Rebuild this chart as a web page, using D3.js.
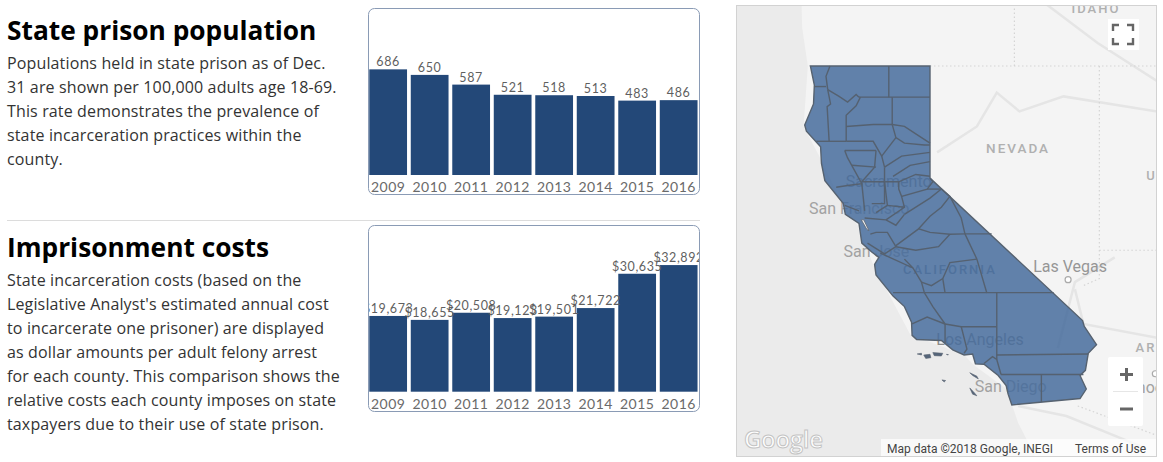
<!DOCTYPE html>
<html><head><meta charset="utf-8">
<script src="https://cdn.jsdelivr.net/npm/d3@7"></script>
<style>html,body{margin:0;padding:0;background:#fff}svg{display:block}</style>
</head><body><svg id="c" width="1163" height="462"></svg>
<script>
const years = [2009,2010,2011,2012,2013,2014,2015,2016];
const prisonRates = [686,650,587,521,518,513,483,486];
const prisonCosts = [19673,18655,20508,19123,19501,21722,30635,32892];

const titleOne = "State prison population";
const bodyOne = ["Populations held in state prison as of Dec.","31 are shown per 100,000 adults age 18-69.","This rate demonstrates the prevalence of","state incarceration practices within the","county."];
const titleTwo = "Imprisonment costs";
const bodyTwo = ["State incarceration costs (based on the","Legislative Analyst's estimated annual cost","to incarcerate one prisoner) are displayed","as dollar amounts per adult felony arrest","for each county. This comparison shows the","relative costs each county imposes on state","taxpayers due to their use of state prison."];

// Map geography, lon/lat
const caOutline = [[-124.21,42],[-120,42],[-120,39],[-114.63,35],[-114.57,34.83],[-114.14,34.3],[-114.43,34.05],[-114.53,33.55],[-114.72,33.4],[-114.5,33],[-114.72,32.72],[-117.12,32.53],[-117.25,32.85],[-117.32,33.1],[-117.6,33.4],[-118.1,33.73],[-118.4,33.74],[-118.5,34.03],[-118.8,34],[-119.2,34.15],[-119.6,34.42],[-120.47,34.45],[-120.63,34.57],[-120.65,34.95],[-120.9,35.4],[-121.3,35.7],[-121.9,36.3],[-121.95,36.6],[-121.8,36.8],[-122.05,36.95],[-122.4,37.2],[-122.5,37.75],[-122.98,38],[-123.05,38.3],[-123.7,38.93],[-123.82,39.4],[-123.85,39.85],[-124.35,40.27],[-124.41,40.44],[-124.1,41],[-124.07,41.5],[-124.21,42]];
const countyLines = [
 [[-123.52,42],[-123.66,41.73],[-123.6,41.38]],[[-124.06,41.46],[-123.66,41.46]],
 [[-121.45,42],[-121.45,41.18]],[[-122.5,41.18],[-120,41.18]],[[-121.33,41.18],[-121.33,40.45]],
 [[-123.6,41.38],[-123.5,41],[-123.62,40.93],[-123.55,40]],[[-124,40],[-122.93,40]],
 [[-122.95,40.4],[-122,40.45],[-121.33,40.45]],[[-123.6,41.38],[-123.2,41.2],[-122.9,41.05],[-122.6,41.25],[-122.5,41.18]],
 [[-122.45,41.18],[-122.6,40.95],[-122.95,40.7],[-122.95,40]],
 [[-121.33,40.45],[-121.2,40.1],[-120.9,39.95],[-120.2,39.9],[-120,39.9]],[[-121.33,40.45],[-120.9,40.4],[-120.5,40.2],[-120,39.95]],
 [[-122.93,40],[-122,40],[-121.7,39.6],[-121.6,39.3]],[[-121.2,40.1],[-121.7,39.6]],[[-123,39.75],[-121.9,39.75]],[[-122.75,39.35],[-121.9,39.3]],
 [[-122.9,39.55],[-122.4,38.85],[-122.9,38.8],[-123.3,38.75]],[[-122.4,38.85],[-122.3,38.1]],[[-122.4,38.9],[-121.6,38.9],[-121.6,38.3],[-122.05,38.3]],
 [[-121.9,39.75],[-121.95,39.3],[-122.4,38.9]],[[-123,39.75],[-122.9,39.55]],[[-121.6,39.3],[-121.6,38.9],[-121.5,38.25],[-121.9,38.05]],
 [[-121.6,39.3],[-121,39.6],[-120,39.7]],[[-121.3,39.05],[-120.7,39.35],[-120,39.45]],[[-121.6,38.9],[-121.1,38.9],[-120.5,39.1],[-120,39.05]],
 [[-121.1,38.9],[-121.1,38.7],[-121,38.5],[-120.1,38.7],[-119.9,38.9],[-120,39]],[[-121.55,37.85],[-120.9,38.2],[-121,38.5]],[[-121.5,38.25],[-120.9,38.2]],
 [[-120.9,38],[-120,38.45],[-119.6,38.7]],[[-120.1,38.7],[-119.6,38.7]],[[-119.6,38.7],[-119.3,38.5],[-119.6,38.2],[-120,37.95],[-120.4,37.6]],
 [[-123,38.25],[-122.5,38.1]],[[-122.3,37.9],[-121.55,37.85],[-121.2,37.7],[-120.9,38]],[[-122.1,37.45],[-121.9,37.5],[-121.5,37.5],[-121.2,37.1]],[[-122.2,37.2],[-121.6,36.9],[-121.2,37.1]],
 [[-121.2,37.13],[-120.4,37.6],[-120,37.5],[-119.3,37.45],[-118.77,37.46],[-117.83,37.46]],[[-121.2,37.1],[-120.5,37],[-119.7,37.1],[-119.3,37.45]],
 [[-121.75,36.92],[-120.6,36.5],[-120.3,36.1],[-120.2,35.8]],[[-120.9,36.75],[-120.6,36.5]],[[-120.3,36.1],[-119.95,36],[-119.55,36.2],[-119.3,36.65],[-118.35,36.75]],
 [[-119.55,36.2],[-119.47,35.79]],[[-118.77,37.46],[-118.35,36.75],[-118,35.79]],[[-119.3,38.5],[-118.9,37.9],[-118.77,37.46]],
 [[-121.3,35.8],[-115.65,35.8]],[[-120.2,35.8],[-119.9,35.4],[-119.47,34.9]],[[-120.63,34.9],[-120.1,35.1],[-119.47,34.9]],[[-119.47,34.9],[-119.47,34.35]],
 [[-119.47,34.9],[-118.9,34.82],[-117.65,34.82]],[[-118.9,34.82],[-118.7,34.17],[-118.8,34.05]],[[-117.65,35.8],[-117.65,33.87]],
 [[-117.65,34],[-114.43,34.03]],[[-117.5,33.43],[-114.6,33.43]],[[-116.08,33.43],[-116.08,32.62]],[[-118.1,33.75],[-117.8,33.95],[-117.65,33.87],[-117.5,33.43]]
];
const islands = [[[-120.45,34.03],[-120.3,34.05],[-120.3,34.0]],[[-120.22,34],[-120,34.02],[-119.97,33.92],[-120.15,33.9]],[[-119.9,34.07],[-119.55,34.05],[-119.6,33.97],[-119.85,33.98]],[[-119.42,34.02],[-119.35,34.01],[-119.4,34]],[[-118.6,33.48],[-118.35,33.38],[-118.3,33.3],[-118.5,33.4]],[[-119.58,33.27],[-119.45,33.25],[-119.5,33.21]],[[-118.6,33.03],[-118.48,32.93],[-118.35,32.8],[-118.5,32.85]]];
const bay = [[-122.42,37.85],[-122.33,37.85],[-122.15,37.55],[-122.22,37.58]];
const waterways = [[[-119.75,39.7],[-118.35,40.4],[-117.65,41.3],[-116.85,40.8],[-115.3,41.2],[-112,40.8]],[[-116.1,43.7],[-114.1,42.6],[-112,41.6]],[[-114.9,35.9],[-114.6,34.9],[-112,34.5]],[[-116.9,32.5],[-115.2,32.2],[-112.6,31.3]],[[-113.5,36.8],[-114.9,36.1],[-115.5,34.2]]];
const dottedLines = [[[-120,42],[-111,42]],[[-117.03,42],[-117.03,45]],[[-114.04,42],[-114.04,36.2],[-114.6,36]],[[-114.04,37],[-111,37]],[[-114.8,32.5],[-111,31.3]]];
const landEdge = [[-124.6,46],[-124.5,43],[-124.3,42],[-124.45,40.4],[-123.9,39.6],[-123.1,38.3],[-122.55,37.7],[-122,36.6],[-120.7,34.6],[-118.8,34],[-118.45,33.7],[-117.3,33],[-116.9,32],[-116.3,31],[-116,30],[-105,30],[-105,46]];
const cities = [
 {name:"Sacramento",lon:-121.49,lat:38.58,size:16,dx:1,dy:-6,color:"#8c8c8c"},
 {name:"San Francisco",lon:-122.42,lat:37.77,size:16,dx:-2,dy:-9,color:"#a2a2a2"},
 {name:"San Jose",lon:-121.89,lat:37.34,size:16,dx:0,dy:19,color:"#a2a2a2"},
 {name:"Las Vegas",lon:-115.14,lat:36.17,size:16,dx:2,dy:-8,color:"#969696"},
 {name:"Los Angeles",lon:-118.24,lat:34.05,size:16,dx:0,dy:-8,color:"#8c8c8c"},
 {name:"San Diego",lon:-117.16,lat:32.72,size:16,dx:0,dy:-7,color:"#a2a2a2"},
 {name:"Phoenix",lon:-112.07,lat:33.45,size:16,dx:0,dy:19,color:"#a2a2a2"}
];
const regions = [
 {name:"NEVADA",lon:-116.9,lat:39.68,size:13.5,color:"#b0b0b0"},
 {name:"CALIFORNIA",lon:-119.3,lat:36.33,size:13,color:"#7f8b9b"},
 {name:"IDAHO",lon:-114.16,lat:43.38,size:13,color:"#b0b0b0"},
 {name:"U",lon:-112.2,lat:38.94,size:13,color:"#b0b0b0"},
 {name:"ARI",lon:-112.3,lat:34.1,size:13,color:"#b0b0b0"}
];

const svg = d3.select("#c");
const defs = svg.append("defs");

function textBlock(title, lines, titleY, firstY){
  svg.append("text").attr("x",7).attr("y",titleY).attr("font-family","Open Sans").attr("font-weight",700).attr("font-size",26.3).attr("fill","#000").text(title);
  svg.selectAll(null).data(lines).join("text").attr("x",7).attr("y",(d,i)=>firstY+i*24)
    .attr("font-family","Open Sans").attr("font-size",16).attr("letter-spacing",0.14).attr("fill","#333").text(d=>d);
}
textBlock(titleOne, bodyOne, 40, 69);
textBlock(titleTwo, bodyTwo, 257, 286);
svg.append("line").attr("x1",7).attr("x2",700).attr("y1",220.5).attr("y2",220.5).attr("stroke","#dcdcdc");

function barPanel(id, values, top, bottom, base, domainMax, rangeHeight, fmt){
  const x = d3.scaleBand().domain(years).range([367.4,699.4]).paddingInner(0.09).paddingOuter(0.045);
  const y = d3.scaleLinear().domain([0,domainMax]).range([base,base-rangeHeight]);
  defs.append("clipPath").attr("id",id).append("rect").attr("x",368.5).attr("y",top).attr("width",331).attr("height",bottom-top).attr("rx",6);
  const g = svg.append("g").attr("clip-path",`url(#${id})`);
  g.selectAll("rect").data(values).join("rect")
    .attr("x",(d,i)=>x(years[i])).attr("width",x.bandwidth())
    .attr("y",d=>y(d)).attr("height",d=>base-y(d)).attr("fill","#234878");
  g.selectAll("text.v").data(values).join("text").attr("class","v")
    .attr("x",(d,i)=>x(years[i])+x.bandwidth()/2).attr("y",d=>y(d)-3).attr("text-anchor","middle")
    .attr("font-family","Lato").attr("font-size",12.5).attr("letter-spacing",0.6).attr("fill","#5f5f5f").text(fmt);
  const ax = g.append("g").attr("transform",`translate(0,${base})`).call(d3.axisBottom(x).tickSize(0).tickPadding(7));
  ax.select(".domain").remove();
  ax.selectAll("text").attr("font-family","Lato").attr("font-size",14).attr("letter-spacing",0.4).attr("fill","#6a6a6a");
  svg.append("rect").attr("x",368.5).attr("y",top).attr("width",331).attr("height",bottom-top).attr("rx",6)
    .attr("fill","none").attr("stroke","#8a9bb5");
}
barPanel("p1", prisonRates, 8.5, 194.5, 175, 800, 123.2, d=>d);
barPanel("p2", prisonCosts, 225.5, 411.5, 391.7, 40000, 154, d=>"$"+d3.format(",")(d));

const proj = d3.geoMercator().center([-120,42]).scale(1628).translate([930,66]);
const line = d3.line().x(d=>proj(d)[0]).y(d=>proj(d)[1]);
defs.append("clipPath").attr("id","mapClip").append("rect").attr("x",737).attr("y",5).attr("width",420).attr("height",451);
const m = svg.append("g").attr("clip-path","url(#mapClip)");
m.append("rect").attr("x",737).attr("y",5).attr("width",420).attr("height",451).attr("fill","#ebebeb");
m.append("path").attr("d",line(landEdge)+"Z").attr("fill","#f4f4f4");
m.selectAll("path.w").data(waterways).join("path").attr("class","w").attr("d",line).attr("fill","none").attr("stroke","#e5e5e5").attr("stroke-width",2.5);
m.selectAll("path.b").data(dottedLines).join("path").attr("class","b").attr("d",line).attr("fill","none").attr("stroke","#d4d4d4").attr("stroke-width",1.2).attr("stroke-dasharray","1.5 2.5");
m.selectAll("text.r").data(regions).join("text").attr("class","r")
 .attr("x",d=>proj([d.lon,d.lat])[0]).attr("y",d=>proj([d.lon,d.lat])[1]).attr("text-anchor","middle")
 .attr("font-family","Roboto").attr("font-weight",500).attr("font-size",d=>d.size).attr("letter-spacing",2).attr("fill",d=>d.color).text(d=>d.name);
m.selectAll("text.c").data(cities).join("text").attr("class","c")
 .attr("x",d=>proj([d.lon,d.lat])[0]+d.dx).attr("y",d=>proj([d.lon,d.lat])[1]+d.dy).attr("text-anchor","middle")
 .attr("font-family","Roboto").attr("font-size",d=>d.size).attr("fill",d=>d.color).text(d=>d.name);
m.selectAll("circle.d").data(cities.filter(d=>d.name==="Las Vegas"||d.name==="Phoenix")).join("circle").attr("class","d")
 .attr("cx",d=>proj([d.lon,d.lat])[0]).attr("cy",d=>proj([d.lon,d.lat])[1]).attr("r",3).attr("fill","#fff").attr("stroke","#aaa").attr("stroke-width",1.2);
m.append("path").attr("d",line(caOutline)+"Z").attr("fill","#466c9c").attr("fill-opacity",0.85).attr("stroke","#566270").attr("stroke-width",1.4);
m.selectAll("path.i").data(islands).join("path").attr("class","i").attr("d",d=>line(d)+"Z").attr("fill","#55657a").attr("stroke","#5a6572").attr("stroke-width",.6);
m.append("path").attr("d",line(bay)+"Z").attr("fill","#ececec").attr("stroke","#5a6572").attr("stroke-width",.8);
m.selectAll("path.k").data(countyLines).join("path").attr("class","k").attr("d",line).attr("fill","none").attr("stroke","#556170").attr("stroke-width",1.4);

m.append("rect").attr("x",1108).attr("y",19).attr("width",31).attr("height",31).attr("fill","#fff");
m.append("path").attr("d","M1113 31V25H1119M1127 25H1133V31M1133 38V44H1127M1119 44H1113V38").attr("fill","none").attr("stroke","#666").attr("stroke-width",2.4);
m.append("rect").attr("x",1108).attr("y",357).attr("width",35).attr("height",69).attr("rx",2).attr("fill","#fff");
m.append("line").attr("x1",1113).attr("x2",1138).attr("y1",391.5).attr("y2",391.5).attr("stroke","#e6e6e6");
m.append("path").attr("d","M1120 374.5H1133M1126.5 368V381").attr("stroke","#666").attr("stroke-width",3).attr("fill","none");
m.append("path").attr("d","M1120 409H1133").attr("stroke","#666").attr("stroke-width",3).attr("fill","none");
m.append("text").attr("x",744).attr("y",448).attr("font-family","Open Sans").attr("font-size",24).attr("font-weight",600).attr("letter-spacing",-.3).attr("fill","#fff").attr("stroke","#c4c4c4").attr("stroke-width",1).text("Google");
m.append("rect").attr("x",881).attr("y",439).attr("width",276).attr("height",17).attr("fill","#fff").attr("fill-opacity",.7);
m.append("text").attr("x",887).attr("y",453).attr("font-family","Roboto").attr("font-size",12).attr("fill","#444").text("Map data ©2018 Google, INEGI");
m.append("text").attr("x",1075).attr("y",453).attr("font-family","Roboto").attr("font-size",12).attr("fill","#444").text("Terms of Use");
svg.append("rect").attr("x",736.5).attr("y",5.5).attr("width",420).attr("height",451).attr("fill","none").attr("stroke","#d2d2d2");
</script></body></html>
